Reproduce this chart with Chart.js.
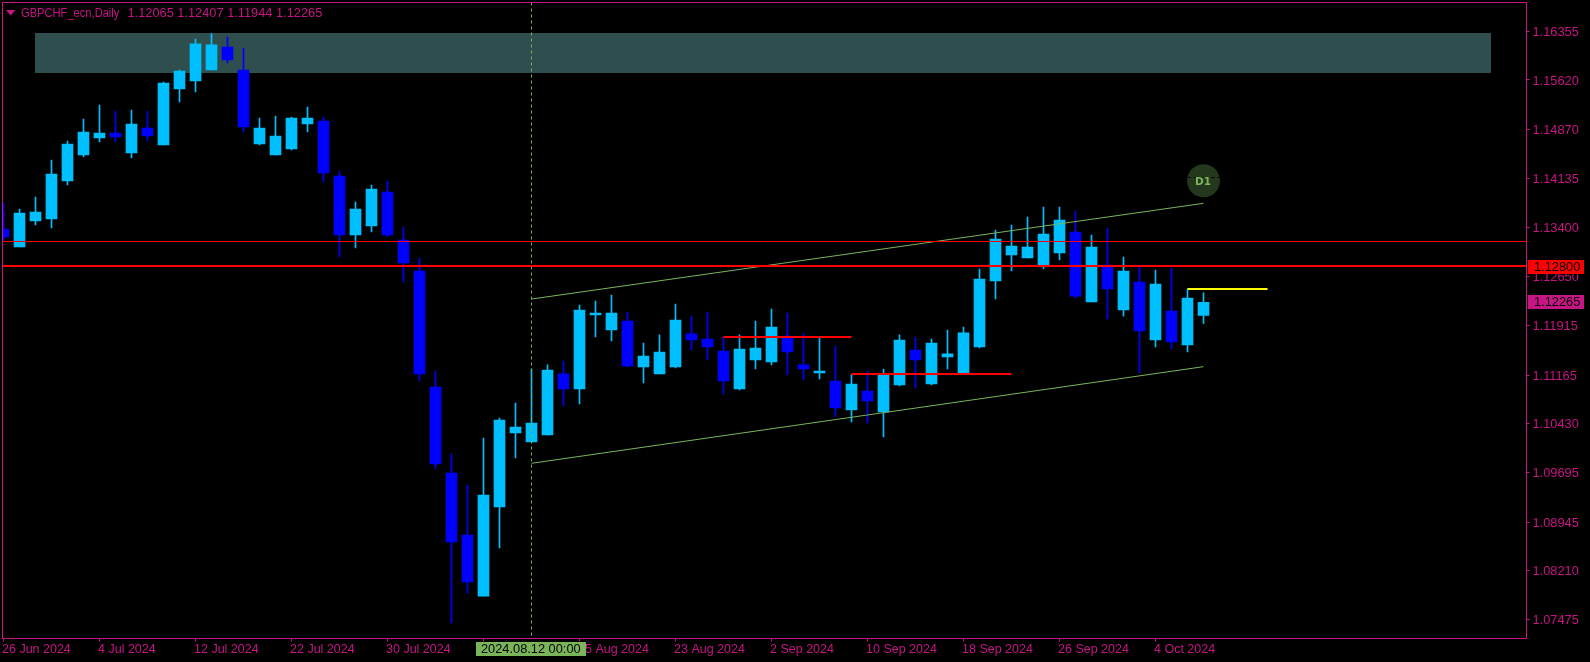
<!DOCTYPE html>
<html><head><meta charset="utf-8">
<style>html,body{margin:0;padding:0;background:#000;overflow:hidden}#w{width:1590px;height:662px;position:relative}</style>
<script src="https://cdn.jsdelivr.net/npm/chart.js@4/dist/chart.umd.js"></script>
</head><body><div id="w"><canvas id="c" width="1590" height="662"></canvas></div>
<script>
const dates=["26 Jun 2024","27 Jun 2024","28 Jun 2024","1 Jul 2024","2 Jul 2024","3 Jul 2024","4 Jul 2024","5 Jul 2024","8 Jul 2024","9 Jul 2024","10 Jul 2024","11 Jul 2024","12 Jul 2024","15 Jul 2024","16 Jul 2024","17 Jul 2024","18 Jul 2024","19 Jul 2024","22 Jul 2024","23 Jul 2024","24 Jul 2024","25 Jul 2024","26 Jul 2024","29 Jul 2024","30 Jul 2024","31 Jul 2024","1 Aug 2024","2 Aug 2024","5 Aug 2024","6 Aug 2024","7 Aug 2024","8 Aug 2024","9 Aug 2024","12 Aug 2024","13 Aug 2024","14 Aug 2024","15 Aug 2024","16 Aug 2024","19 Aug 2024","20 Aug 2024","21 Aug 2024","22 Aug 2024","23 Aug 2024","26 Aug 2024","27 Aug 2024","28 Aug 2024","29 Aug 2024","30 Aug 2024","2 Sep 2024","3 Sep 2024","4 Sep 2024","5 Sep 2024","6 Sep 2024","9 Sep 2024","10 Sep 2024","11 Sep 2024","12 Sep 2024","13 Sep 2024","16 Sep 2024","17 Sep 2024","18 Sep 2024","19 Sep 2024","20 Sep 2024","23 Sep 2024","24 Sep 2024","25 Sep 2024","26 Sep 2024","27 Sep 2024","30 Sep 2024","1 Oct 2024","2 Oct 2024","3 Oct 2024","4 Oct 2024","7 Oct 2024","8 Oct 2024","9 Oct 2024"];
const opens=[1.13370,1.13098,1.13491,1.13521,1.14095,1.14488,1.14744,1.14820,1.14518,1.14895,1.14639,1.15484,1.15605,1.15771,1.16118,1.15771,1.14654,1.14488,1.14578,1.14956,1.15001,1.14170,1.13280,1.13415,1.13929,1.13204,1.12736,1.10985,1.09687,1.08751,1.07829,1.09173,1.10291,1.10155,1.10261,1.11182,1.10955,1.12072,1.11846,1.11982,1.11287,1.11182,1.11287,1.11786,1.11710,1.11529,1.10955,1.11393,1.11363,1.11755,1.11318,1.11197,1.11076,1.10638,1.10925,1.10608,1.11016,1.11544,1.11031,1.11438,1.11182,1.11589,1.12585,1.12978,1.12932,1.12811,1.13008,1.13325,1.12268,1.12827,1.12147,1.12570,1.11695,1.12132,1.11620,1.12065];
const highs=[1.13763,1.13672,1.13853,1.14412,1.14699,1.15031,1.15243,1.15152,1.15167,1.15152,1.15590,1.15771,1.16239,1.16315,1.16269,1.16103,1.15046,1.15076,1.15061,1.15212,1.15061,1.14246,1.13778,1.14035,1.14095,1.13400,1.12932,1.11227,1.09974,1.09506,1.10215,1.10517,1.10744,1.11257,1.11318,1.11378,1.12223,1.12283,1.12374,1.12117,1.11650,1.11771,1.12238,1.12056,1.12117,1.11740,1.11771,1.11982,1.12162,1.12102,1.11786,1.11725,1.11604,1.11167,1.11227,1.11257,1.11771,1.11740,1.11710,1.11846,1.11891,1.12766,1.13355,1.13431,1.13551,1.13702,1.13702,1.13642,1.13280,1.13385,1.12947,1.12796,1.12751,1.12781,1.12464,1.12407];
const lows=[1.13204,1.13098,1.13431,1.13385,1.14035,1.14457,1.14684,1.14684,1.14442,1.14699,1.14639,1.15288,1.15439,1.15771,1.15877,1.14835,1.14639,1.14488,1.14563,1.14835,1.14080,1.12947,1.13083,1.13325,1.13249,1.12570,1.11076,1.09747,1.07422,1.07875,1.07829,1.08554,1.09913,1.10155,1.10261,1.10698,1.10729,1.11740,1.11680,1.11287,1.11046,1.11182,1.11272,1.11544,1.11393,1.10880,1.10940,1.11257,1.11318,1.11167,1.11091,1.11106,1.10532,1.10457,1.10442,1.10230,1.11000,1.10970,1.11016,1.11257,1.11182,1.11574,1.12313,1.12736,1.12932,1.12766,1.12902,1.12328,1.12268,1.12011,1.12056,1.11197,1.11589,1.11559,1.11514,1.11944];
const closes=[1.13249,1.13612,1.13627,1.14201,1.14654,1.14835,1.14820,1.14759,1.14956,1.14774,1.15575,1.15756,1.16164,1.16149,1.15922,1.14910,1.14895,1.14774,1.15046,1.15046,1.14216,1.13280,1.13672,1.13974,1.13280,1.12857,1.11182,1.09823,1.08645,1.08041,1.09355,1.10487,1.10381,1.10442,1.11242,1.10955,1.12147,1.12102,1.12102,1.11302,1.11453,1.11514,1.11997,1.11695,1.11589,1.11076,1.11559,1.11574,1.11891,1.11514,1.11257,1.11227,1.10668,1.11031,1.10774,1.11167,1.11695,1.11393,1.11650,1.11484,1.11801,1.12615,1.13219,1.13113,1.13098,1.13295,1.13506,1.12358,1.13098,1.12464,1.12736,1.11831,1.12540,1.11665,1.12328,1.12265];
const priceTicks=[1.16355,1.15620,1.14870,1.14135,1.13400,1.12650,1.11915,1.11165,1.10430,1.09695,1.08945,1.08210,1.07475];
const dateTickIndexes=[0,6,12,18,24,30,36,42,48,54,60,66,72];
const zoneX=[2,93], zoneY=[1.16328,1.15726];
const channelUpperX=[33,75], channelUpperY=[1.12313,1.13758];
const channelLowerX=[33,75], channelLowerY=[1.09833,1.11292];
const thinRedY=1.13182, thickRedY=1.12812;
const segA_X=[45,53], segA_Y=1.11740;
const segB_X=[53,63], segB_Y=1.11182;
const yellowX=[74,79], yellowY=1.12464;
const markerX=33, badgeX=75, badgeY=1.14099;
const titleName="GBPCHF_ecn,Daily", titleValues="1.12065 1.12407 1.11944 1.12265";
const priceTagA="1.12800", priceTagB="1.12265", dateTag="2024.08.12 00:00", badgeText="D1";

const MAG="#C71585",UP="#00BFFF",DOWN="#0000FF",GRN="#7AB55A",ZONE="#2F4F4F",RED="#FF0000",YEL="#FFFF00";
const FONT="Liberation Sans";
const idx=dates.map((_,i)=>i);
const cols=idx.map(i=>closes[i]>=opens[i]?UP:DOWN);
const xMin=-0.0625,xMax=95.1875,yMax=1.167898,yMin=1.071882;
const line=(xs,ys,color,width,order,dash)=>({type:'line',data:xs.map((x,i)=>({x,y:ys[i]})),borderColor:color,borderWidth:width,pointRadius:0,borderDash:dash||[],order,tension:0,borderCapStyle:'butt'});
const noPad=s=>{s.paddingLeft=s.paddingRight=s.paddingTop=s.paddingBottom=0;};

const framePlugin={id:'frame',
 beforeDatasetsDraw(ch){const{ctx,scales:{x,y}}=ch;ctx.save();ctx.fillStyle=ZONE;
  const a=Math.round(x.getPixelForValue(zoneX[0]))-1,b=Math.round(x.getPixelForValue(zoneX[1]))-1,t=Math.round(y.getPixelForValue(zoneY[0])),u=Math.round(y.getPixelForValue(zoneY[1]));
  ctx.fillRect(a,t,b-a,u-t);ctx.restore();},
 afterDraw(ch){const{ctx,chartArea:A,scales:{x,y}}=ch;ctx.save();
  ctx.strokeStyle=MAG;ctx.lineWidth=1;ctx.strokeRect(A.left,A.top,A.right-A.left,A.bottom-A.top);
  ctx.fillStyle=MAG;ctx.beginPath();ctx.moveTo(6,10);ctx.lineTo(15.5,10);ctx.lineTo(10.7,15.5);ctx.closePath();ctx.fill();
  ctx.font="12.8px '"+FONT+"'";ctx.textBaseline='middle';ctx.textAlign='left';
  ctx.save();ctx.translate(21,13);ctx.scale(0.87,1);ctx.fillText(titleName,0,0);ctx.restore();
  ctx.fillText(titleValues,127.5,13);
  const tag=(y0,bg,t)=>{ctx.fillStyle=bg;ctx.fillRect(1528,y0,56,14);ctx.fillStyle='#000';ctx.fillText(t,1534,y0+7.5);};
  tag(260,RED,priceTagA);tag(295,MAG,priceTagB);
  ctx.fillStyle=GRN;ctx.fillRect(476,642,110,14);ctx.fillStyle='#000';ctx.fillText(dateTag,481,649.5);
  const bx=x.getPixelForValue(badgeX),by=y.getPixelForValue(badgeY);
  ctx.fillStyle='#000';for(let d=-16;d<16;d+=6)ctx.fillRect(bx+d,177,3,1);
  ctx.fillStyle=GRN;ctx.font="bold 10.5px 'DejaVu Sans'";ctx.textAlign='center';ctx.fillText(badgeText,bx-0.5,by+2);
  ctx.restore();}
};

new Chart(document.getElementById('c'),{
 type:'bar',
 data:{datasets:[
  {data:idx.map(i=>({x:i,y:[lows[i],highs[i]]})),backgroundColor:cols,barThickness:1,grouped:false,order:6},
  {data:idx.map(i=>({x:i,y:[opens[i],closes[i]]})),backgroundColor:cols,barThickness:11,grouped:false,order:5},
  line(channelUpperX,channelUpperY,GRN,1,4),
  line(channelLowerX,channelLowerY,GRN,1,4),
  line([markerX,markerX],[yMax,yMin+0.0003],GRN,1,4,[3,3]),
  line([xMin,xMax],[thinRedY,thinRedY],RED,1,2),
  line([xMin,xMax],[thickRedY,thickRedY],RED,2,2),
  line(segA_X,[segA_Y,segA_Y],RED,2,2),
  line(segB_X,[segB_Y,segB_Y],RED,2,2),
  line(yellowX,[yellowY,yellowY],YEL,2,2),
  {type:'scatter',data:[{x:badgeX,y:badgeY}],backgroundColor:'#24381E',borderWidth:0,pointRadius:16.5,order:3}
 ]},
 plugins:[framePlugin],
 options:{responsive:false,animation:false,devicePixelRatio:1,
  layout:{autoPadding:false,padding:{left:2.5,top:2.5,right:0,bottom:0}},
  plugins:{legend:{display:false},tooltip:{enabled:false}},
  scales:{
   x:{type:'linear',position:'bottom',offset:false,min:xMin,max:xMax,
    afterBuildTicks(s){s.ticks=dateTickIndexes.map(v=>({value:v}));},
    afterFit(s){s.height=23.5;noPad(s);},
    border:{display:false},
    grid:{drawOnChartArea:false,color:MAG,tickLength:3,tickWidth:1,offset:false},
    ticks:{autoSkip:false,maxRotation:0,minRotation:0,align:'start',labelOffset:-1.5,color:MAG,padding:1,includeBounds:false,font:{family:FONT,size:12.5},callback:v=>dates[v]||''}},
   y:{type:'linear',position:'right',min:yMin,max:yMax,
    afterBuildTicks(s){s.ticks=priceTicks.map(v=>({value:v}));},
    afterFit(s){s.width=63.5;noPad(s);},
    border:{display:false},
    grid:{drawOnChartArea:false,color:MAG,tickLength:3,tickWidth:1},
    ticks:{autoSkip:false,color:MAG,padding:3,labelOffset:1,font:{family:FONT,size:12.8},callback:v=>v.toFixed(5)}}
  }}
});
</script></body></html>
